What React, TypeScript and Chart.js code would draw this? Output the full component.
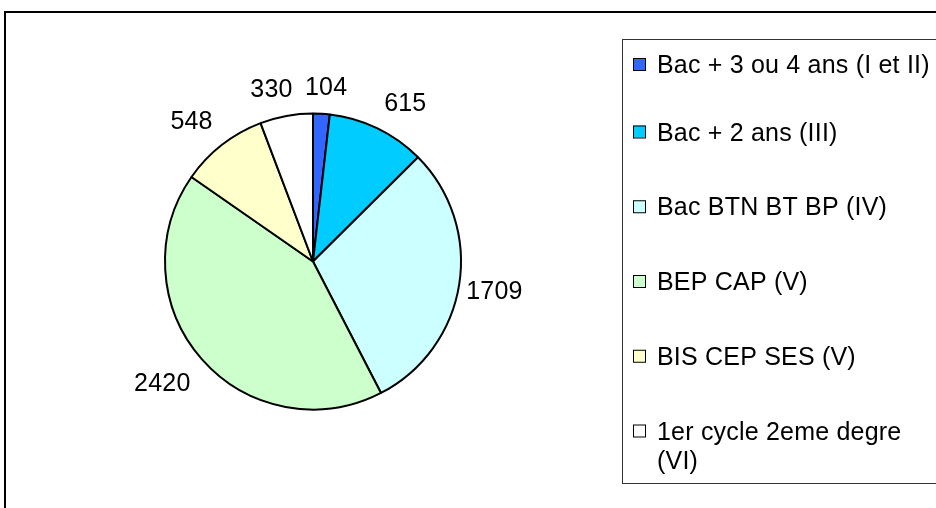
import React, { useEffect, useRef } from "react";
import { Chart, ArcElement, PieController } from "chart.js";

Chart.register(ArcElement, PieController);

const categories = [
  "Bac + 3 ou 4 ans (I et II)",
  "Bac + 2 ans (III)",
  "Bac BTN BT BP (IV)",
  "BEP CAP (V)",
  "BIS CEP SES (V)",
  "1er cycle 2eme degre (VI)",
];
const values = [104, 615, 1709, 2420, 548, 330];
const colors = ["#3366FF", "#00CCFF", "#CCFFFF", "#CCFFCC", "#FFFFCC", "#FFFFFF"];

const FONT = "25px 'Liberation Sans', Arial, sans-serif";
const SPACING = "0.2px";

function wrap(ctx: CanvasRenderingContext2D, text: string, maxW: number): string[] {
  const words = text.split(" ");
  const lines: string[] = [];
  let cur = "";
  for (const w of words) {
    const t = cur ? cur + " " + w : w;
    if (ctx.measureText(t).width > maxW && cur) {
      lines.push(cur);
      cur = w;
    } else cur = t;
  }
  if (cur) lines.push(cur);
  return lines;
}

const framePlugin = {
  id: "frame",
  beforeDraw(chart: any) {
    const ctx = chart.ctx as CanvasRenderingContext2D;
    ctx.save();
    ctx.fillStyle = "#fff";
    ctx.fillRect(0, 0, chart.width, chart.height);
    ctx.strokeStyle = "#000";
    ctx.lineWidth = 2;
    ctx.strokeRect(5, 12, 1200, 1200);
    ctx.restore();
  },
};

const labelPlugin = {
  id: "sliceLabels",
  afterDatasetsDraw(chart: any) {
    const ctx = chart.ctx as any;
    const meta = chart.getDatasetMeta(0);
    const data = chart.data.datasets[0].data;
    ctx.save();
    ctx.font = FONT;
    ctx.letterSpacing = SPACING;
    ctx.fillStyle = "#000";
    ctx.textAlign = "center";
    ctx.textBaseline = "alphabetic";
    meta.data.forEach((arc: any, i: number) => {
      const { x, y, startAngle, endAngle, outerRadius } = arc.getProps(
        ["x", "y", "startAngle", "endAngle", "outerRadius"],
        true
      );
      const mid = (startAngle + endAngle) / 2;
      const ux = Math.cos(mid);
      const uy = Math.sin(mid);
      const ax = Math.abs(ux);
      const ay = Math.abs(uy);
      const text = String(data[i]);
      const w = ctx.measureText(text).width;
      const d = outerRadius + 15;
      const fx =
        Math.sign(ux) * Math.min(1, 3.2 * ax) * (ax > 0.85 ? 1 - 2 * (ax - 0.85) : 1);
      const fy = Math.sign(uy) * Math.pow(Math.min(1, 3 * ay), 2);
      const cx = x + d * ux + (fx * w) / 2;
      const cy = y + d * uy + fy * 13;
      ctx.fillText(text, cx, cy + 9);
    });
    ctx.restore();
  },
};

const legendPlugin = {
  id: "boxLegend",
  afterDraw(chart: any) {
    const ctx = chart.ctx as any;
    const labels = chart.data.labels as string[];
    const bg = chart.data.datasets[0].backgroundColor as string[];
    ctx.save();
    ctx.strokeStyle = "#333";
    ctx.lineWidth = 1;
    ctx.strokeRect(622.5, 39.5, 500, 444);
    ctx.font = FONT;
    ctx.letterSpacing = SPACING;
    ctx.textAlign = "left";
    ctx.textBaseline = "alphabetic";
    const textX = 657;
    const maxW = chart.width - textX + 2;
    labels.forEach((lab, i) => {
      const yc = i === 0 ? 64 : 131.5 + (i - 1) * 74.75;
      ctx.fillStyle = bg[i];
      ctx.fillRect(633, yc - 6, 12, 12);
      ctx.strokeStyle = "#000";
      ctx.strokeRect(633.5, yc - 5.5, 12, 12);
      ctx.fillStyle = "#000";
      const lines = wrap(ctx, lab, maxW);
      lines.forEach((ln, j) => {
        ctx.fillText(ln, textX, yc + 9 + j * 29.5);
      });
    });
    ctx.restore();
  },
};

export default function App() {
  const ref = useRef<HTMLCanvasElement | null>(null);
  useEffect(() => {
    document.body.style.margin = "0";
    const canvas = ref.current!;
    const chart = new Chart(canvas, {
      type: "pie",
      data: {
        labels: categories,
        datasets: [
          {
            data: values,
            backgroundColor: colors,
            borderColor: "#000",
            borderWidth: 2,
          },
        ],
      },
      options: {
        responsive: false,
        animation: false,
        events: [],
        radius: 148,
        layout: { padding: { left: 153, right: 463, top: 101.5, bottom: 86.5 } },
        plugins: { legend: { display: false }, tooltip: { enabled: false } },
      } as any,
      plugins: [framePlugin, labelPlugin, legendPlugin],
    });
    return () => chart.destroy();
  }, []);
  return (
    <div style={{ width: 936, height: 508 }}>
      <canvas ref={ref} width={936} height={508} style={{ display: "block" }} />
    </div>
  );
}
